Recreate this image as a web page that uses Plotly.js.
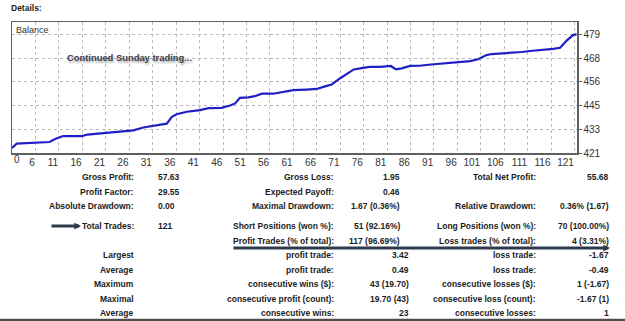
<!DOCTYPE html>
<html>
<head>
<meta charset="utf-8">
<script src="https://cdn.plot.ly/plotly-3.0.1.min.js"></script>
<style>
  html, body { margin: 0; padding: 0; background: #ffffff; }
  #chart { width: 625px; height: 321px; }
</style>
</head>
<body>
<div id="chart"></div>
<script>
// Balance curve: trade number vs. account balance
const tradeNo = [1.0, 2.0, 9.0, 10.2, 11.9, 15.9, 17.1, 19.8, 21.9, 24.7, 26.9, 29.0, 31.1, 34.0, 35.1,
  36.1, 38.3, 41.1, 42.9, 45.7, 47.5, 48.6, 49.6, 51.4, 52.8, 54.3, 56.7, 58.9, 61.0, 63.8,
  66.0, 67.4, 69.2, 71.0, 72.4, 73.9, 75.9, 77.3, 79.5, 81.8, 82.9, 84.1, 85.9, 88.0, 89.8,
  92.3, 95.8, 98.7, 100.4, 102.2, 103.3, 105.8, 107.9, 109.7, 111.5, 114.3, 116.4, 117.9, 119.3,
  120.7, 121.4];
const balance = [423.9, 426.0, 426.8, 428.3, 429.7, 429.7, 430.45, 430.95, 431.25, 432.0, 432.5, 433.9, 434.8, 435.8, 439.1,
  440.4, 441.6, 442.4, 443.4, 443.5, 444.7, 445.7, 448.45, 448.65, 449.25, 450.45, 450.45, 451.4, 452.2, 452.5,
  452.8, 453.8, 455.0, 458.05, 459.95, 462.35, 463.15, 463.65, 463.65, 464.05, 462.35, 462.85, 464.05, 464.15, 464.65,
  465.15, 465.65, 466.45, 467.35, 469.4, 469.9, 470.2, 470.7, 470.9, 471.4, 471.9, 472.4, 473.0, 476.5,
  479.3, 479.5];

// Axis ticks
const xTickVals = [6, 11, 16, 21, 26, 31, 36, 41, 46, 51, 56, 61, 66, 71, 76, 81, 86, 91, 96, 101, 106, 111, 116, 121];
const xTickText = xTickVals.map(String);
const yTickVals = [421.4, 433.0, 444.6, 456.2, 467.8, 479.4];
const yTickText = ['421', '433', '445', '456', '468', '479'];

// Report table: upper block
const upperCol1Labels = ['Gross Profit:', 'Profit Factor:', 'Absolute Drawdown:', 'Total Trades:', ''];
const upperCol1Values = ['57.63', '29.55', '0.00', '121', ''];
const upperCol2Labels = ['Gross Loss:', 'Expected Payoff:', 'Maximal Drawdown:', 'Short Positions (won %):', 'Profit Trades (% of total):'];
const upperCol2Values = ['1.95', '0.46', '1.67 (0.36%)', '51 (92.16%)', '117 (96.69%)'];
const upperCol3Labels = ['Total Net Profit:', '', 'Relative Drawdown:', 'Long Positions (won %):', 'Loss trades (% of total):'];
const upperCol3Values = ['55.68', '', '0.36% (1.67)', '70 (100.00%)', '4 (3.31%)'];

// Report table: lower block
const lowerCol1Labels = ['Largest', 'Average', 'Maximum', 'Maximal', 'Average'];
const lowerCol2Labels = ['profit trade:', 'profit trade:', 'consecutive wins ($):', 'consecutive profit (count):', 'consecutive wins:'];
const lowerCol2Values = ['3.42', '0.49', '43 (19.70)', '19.70 (43)', '23'];
const lowerCol3Labels = ['loss trade:', 'loss trade:', 'consecutive losses ($):', 'consecutive loss (count):', 'consecutive losses:'];
const lowerCol3Values = ['-1.67', '-0.49', '1 (-1.67)', '-1.67 (1)', '1'];

// Page geometry (pixels) of the plotting frame
const W = 625, H = 321;
const frame = { left: 12, right: 577, top: 22, bottom: 153 };
const fw = frame.right - frame.left, fh = frame.bottom - frame.top;
const px = x => (x - frame.left) / fw;
const py = y => (frame.bottom - y) / fh;

const FONT = 'Liberation Sans, Arial, sans-serif';
const TXT = '#1c1c1c';

const annotations = [];
function label(text, x, y, anchor, opts) {
  annotations.push(Object.assign({
    text: text, xref: 'paper', yref: 'paper', x: px(x), y: py(y),
    xanchor: anchor, yanchor: 'middle', showarrow: false, borderpad: 0,
    font: { family: FONT, size: 8.5, color: TXT }
  }, opts || {}));
}

label('<b>Details:</b>', 10, 8, 'left');
label('Balance', 15, 30, 'left', { font: { family: FONT, size: 9, color: '#333333' } });
label('<b>Continued Sunday trading...</b>', 66, 57, 'left', {
  font: { family: FONT, size: 9.4, color: '#3b4250', shadow: '1px 2px 2px rgba(0,0,0,0.35)' }
});
label('0', 13, 159, 'left', { font: { family: FONT, size: 10, color: '#333333' } });

const upperRows = [177, 191.5, 206, 226, 240.5];
const lowerRows = [255, 269.5, 284, 298.5, 313];
upperRows.forEach((y, i) => {
  if (upperCol1Labels[i]) label('<b>' + upperCol1Labels[i] + '</b>', 135, y, 'right');
  if (upperCol1Values[i]) label('<b>' + upperCol1Values[i] + '</b>', 157, y, 'left');
  label('<b>' + upperCol2Labels[i] + '</b>', 335, y, 'right');
  label('<b>' + upperCol2Values[i] + '</b>', 401, y, 'right');
  if (upperCol3Labels[i]) label('<b>' + upperCol3Labels[i] + '</b>', 537, y, 'right');
  if (upperCol3Values[i]) label('<b>' + upperCol3Values[i] + '</b>', 610, y, 'right');
});
lowerRows.forEach((y, i) => {
  label('<b>' + lowerCol1Labels[i] + '</b>', 135, y, 'right');
  label('<b>' + lowerCol2Labels[i] + '</b>', 335, y, 'right');
  label('<b>' + lowerCol2Values[i] + '</b>', 410, y, 'right');
  label('<b>' + lowerCol3Labels[i] + '</b>', 537, y, 'right');
  label('<b>' + lowerCol3Values[i] + '</b>', 610, y, 'right');
});

// Pointer arrows
function arrow(x0, x1, y) {
  annotations.push({
    text: '', xref: 'paper', yref: 'paper', x: px(x1), y: py(y),
    ax: x0 - x1, ay: 0, axref: 'pixel', ayref: 'pixel',
    showarrow: true, arrowhead: 2, arrowsize: 0.45, arrowwidth: 3, arrowcolor: '#2e3a4c'
  });
}
arrow(50, 81, 226);
arrow(232, 610, 248);

const shapes = [{
  type: 'line', xref: 'paper', yref: 'paper',
  x0: px(0), x1: px(W), y0: py(320), y1: py(320),
  line: { color: '#4d4d4d', width: 2.5 }
}];

const trace = {
  x: tradeNo, y: balance, type: 'scatter', mode: 'lines',
  line: { color: '#1f1fc6', width: 2.2 }, hoverinfo: 'skip'
};

const GRID = '#bababa';
const layout = {
  width: W, height: H, autosize: false,
  margin: { l: frame.left, r: W - frame.right, t: frame.top, b: H - frame.bottom, pad: 0 },
  paper_bgcolor: '#ffffff', plot_bgcolor: '#ffffff',
  showlegend: false,
  xaxis: {
    range: [1, 121.5], tickmode: 'array', tickvals: xTickVals, ticktext: xTickText,
    ticklabelposition: 'outside left', tickangle: 0, ticks: '', ticklabelstandoff: -1,
    showgrid: true, gridcolor: GRID, griddash: 'dot', gridwidth: 1,
    zeroline: false, showline: true, mirror: true, linecolor: '#5f5f5f', linewidth: 1.5,
    tickfont: { family: FONT, size: 10, color: '#333333' }, fixedrange: true
  },
  yaxis: {
    range: [421.4, 485.6], side: 'right', tickmode: 'array', tickvals: yTickVals, ticktext: yTickText,
    ticks: 'outside', ticklen: 3, tickcolor: '#5f5f5f',
    showgrid: true, gridcolor: GRID, griddash: 'dot', gridwidth: 1,
    zeroline: false, showline: true, mirror: true, linecolor: '#5f5f5f', linewidth: 1.5,
    tickfont: { family: FONT, size: 10, color: '#333333' }, fixedrange: true
  },
  annotations: annotations,
  shapes: shapes
};

Plotly.newPlot('chart', [trace], layout, { staticPlot: true, displayModeBar: false });
</script>
</body>
</html>
